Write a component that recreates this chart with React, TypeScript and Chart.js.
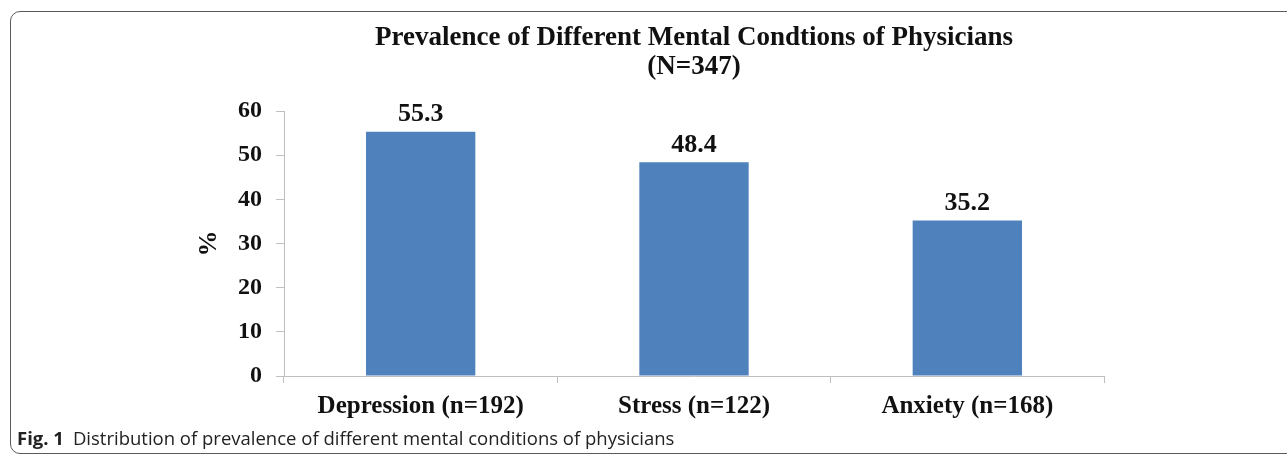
import React, { useEffect, useRef } from "react";
import { Chart, registerables } from "chart.js";

Chart.register(...registerables);

const categories = ["Depression (n=192)", "Stress (n=122)", "Anxiety (n=168)"];
const prevalence = [55.3, 48.4, 35.2];
const yTicks = [0, 10, 20, 30, 40, 50, 60];
const titleLines = ["Prevalence of Different Mental Condtions of Physicians", "(N=347)"];

const SERIF = "'Liberation Serif', 'Times New Roman', serif";

const dataLabelPlugin = {
  id: "dataLabels",
  afterDatasetsDraw(chart: any) {
    const ctx = chart.ctx;
    const meta = chart.getDatasetMeta(0);
    ctx.save();
    ctx.font = `bold 26px ${SERIF}`;
    ctx.fillStyle = "#111";
    ctx.textAlign = "center";
    ctx.textBaseline = "middle";
    meta.data.forEach((el: any, i: number) => {
      ctx.fillText(prevalence[i].toFixed(1), el.x, el.y - 17);
    });
    ctx.restore();
  },
};

// Title centred over the plot area (as in the original figure)
const areaTitlePlugin = {
  id: "areaTitle",
  afterDraw(chart: any) {
    const ctx = chart.ctx;
    const { left, right } = chart.chartArea;
    const cx = (left + right) / 2;
    ctx.save();
    ctx.font = `bold 27px ${SERIF}`;
    ctx.fillStyle = "#111";
    ctx.textAlign = "center";
    ctx.textBaseline = "middle";
    titleLines.forEach((line, i) => {
      ctx.fillText(line, cx, 38 + i * 29);
    });
    ctx.restore();
  },
};

export default function App() {
  const ref = useRef<HTMLCanvasElement | null>(null);

  useEffect(() => {
    if (!ref.current) return;
    const chart = new Chart(ref.current, {
      type: "bar",
      data: {
        labels: categories,
        datasets: [
          {
            data: prevalence,
            backgroundColor: "#4F81BD",
            borderWidth: 0,
            categoryPercentage: 1,
            barPercentage: 0.4,
          },
        ],
      },
      options: {
        responsive: false,
        animation: false,
        layout: { padding: { left: 190, top: 111, right: 183, bottom: 0 } },
        plugins: {
          legend: { display: false },
          tooltip: { enabled: false },
          title: { display: false },
        },
        scales: {
          x: {
            afterFit(scale: any) {
              scale.height = 79;
            },
            grid: { offset: true, drawOnChartArea: false, tickLength: 7, color: "#bfbfbf" },
            border: { color: "#bfbfbf" },
            ticks: {
              color: "#111",
              padding: 9,
              font: { family: SERIF, size: 25, weight: "bold" },
              maxRotation: 0,
            },
          },
          y: {
            min: 0,
            max: 60,
            afterFit(scale: any) {
              scale.width = 94;
            },
            afterBuildTicks(scale: any) {
              scale.ticks = yTicks.map((v) => ({ value: v }));
            },
            grid: { drawOnChartArea: false, tickLength: 8, color: "#bfbfbf" },
            border: { color: "#bfbfbf" },
            ticks: {
              color: "#111",
              padding: 14,
              font: { family: SERIF, size: 24, weight: "bold" },
            },
            title: {
              display: true,
              text: "%",
              color: "#111",
              font: { family: SERIF, size: 26, weight: "bold" },
              padding: { top: 3.5, bottom: 0 },
            },
          },
        },
      },
      plugins: [dataLabelPlugin, areaTitlePlugin],
    });
    return () => chart.destroy();
  }, []);

  return (
    <div
      style={{
        position: "fixed",
        left: 0,
        top: 0,
        width: 1287,
        height: 455,
        overflow: "hidden",
        background: "#fff",
      }}
    >
      <div
        style={{
          position: "absolute",
          left: 10,
          top: 11,
          width: 1300,
          height: 443,
          border: "1.5px solid #5a5a5a",
          borderRadius: 10,
          boxSizing: "border-box",
        }}
      />
      <canvas
        ref={ref}
        width={1287}
        height={455}
        style={{ position: "absolute", left: 0, top: 0 }}
      />
      <div
        style={{
          position: "absolute",
          left: 17,
          top: 426,
          fontFamily: "'Open Sans', 'Noto Sans', sans-serif",
          fontSize: 18.5,
          color: "#222",
          whiteSpace: "nowrap",
          lineHeight: "24px",
        }}
      >
        <b>Fig. 1</b>
        <span style={{ marginLeft: 9 }}>Distribution of prevalence of different mental conditions of physicians</span>
      </div>
    </div>
  );
}
